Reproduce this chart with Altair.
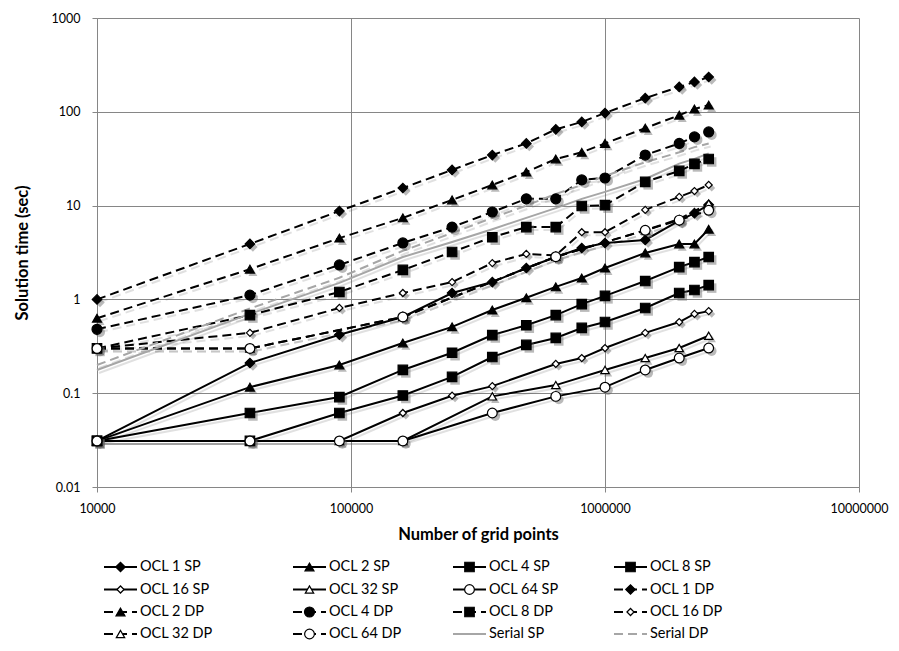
import altair as alt
import pandas as pd

# Grid sizes (number of grid points)
N = [10000, 40000, 90000, 160000, 250000, 360000, 490000, 640000,
     810000, 1000000, 1440000, 1960000, 2250000, 2560000]

# Solution times in seconds; None where a run is not reported
ocl1_sp = [0.031, 0.21, 0.42, 0.65, 1.17, 1.53, 2.16, 2.83, 3.53, 3.99, 4.3, 6.9, 8.3, 10.2]
ocl2_sp = [0.031, 0.116, 0.20, 0.343, 0.51, 0.77, 1.04, 1.36, 1.69, 2.16, 3.13, 3.9, 3.9, 5.6]
ocl4_sp = [0.031, 0.0615, 0.091, 0.177, 0.27, 0.417, 0.53, 0.68, 0.89, 1.09, 1.57, 2.21, 2.5, 2.83]
ocl8_sp = [0.031, 0.031, 0.0615, 0.0945, 0.149, 0.243, 0.327, 0.388, 0.496, 0.574, 0.81, 1.17, 1.26, 1.42]
ocl16_sp = [0.031, 0.031, 0.031, 0.0615, 0.094, 0.119, None, 0.205, 0.237, 0.303, 0.44, 0.574, 0.70, 0.75]
ocl32_sp = [0.031, 0.031, 0.031, 0.031, None, 0.0925, None, 0.122, None, 0.177, 0.237, 0.303, None, 0.41]
ocl64_sp = [0.031, 0.031, 0.031, 0.031, None, 0.0615, None, 0.0925, None, 0.116, 0.177, 0.237, None, 0.303]

ocl1_dp = [1.0, 3.9, 8.75, 15.4, 24.0, 34.6, 46.0, 65.0, 78.0, 97.0, 140.0, 184.0, 208.0, 235.0]
ocl2_dp = [0.63, 2.1, 4.5, 7.4, 11.5, 16.6, 22.8, 31.4, 37.0, 46.0, 67.0, 92.0, 107.0, 118.0]
ocl4_dp = [0.48, 1.11, 2.33, 4.0, 5.9, 8.55, 11.8, 11.8, 18.8, 19.7, 34.6, 46.0, 54.0, 61.0]
ocl8_dp = [0.30, 0.68, 1.2, 2.06, 3.2, 4.6, 5.9, 5.9, 9.9, 10.1, 17.9, 23.4, 27.8, 31.4]
ocl16_dp = [0.30, 0.44, 0.81, 1.17, 1.53, 2.44, 3.05, 2.95, 5.2, 5.2, 9.0, 12.4, 14.3, 16.6]
ocl32_dp = [0.30, 0.30, None, 0.65, None, None, None, 2.85, None, None, 5.45, 7.2, None, 10.5]
ocl64_dp = [0.30, 0.30, None, 0.65, None, None, None, 2.85, None, None, 5.45, 7.0, None, 8.9]

serial_sp = [0.177, 0.70, 1.5, 2.83, 4.1, 5.6, 7.4, 9.4, 11.8, 14.0, 19.2, 28.0, 31.5, 36.0]
serial_dp = [0.20, 0.80, 1.7, 3.3, 5.1, 7.4, 10.0, 13.3, 16.6, 20.7, 29.0, 37.0, 42.0, 46.0]

series = [
    ("OCL 1 SP", ocl1_sp), ("OCL 2 SP", ocl2_sp), ("OCL 4 SP", ocl4_sp), ("OCL 8 SP", ocl8_sp),
    ("OCL 16 SP", ocl16_sp), ("OCL 32 SP", ocl32_sp), ("OCL 64 SP", ocl64_sp), ("OCL 1 DP", ocl1_dp),
    ("OCL 2 DP", ocl2_dp), ("OCL 4 DP", ocl4_dp), ("OCL 8 DP", ocl8_dp), ("OCL 16 DP", ocl16_dp),
    ("OCL 32 DP", ocl32_dp), ("OCL 64 DP", ocl64_dp), ("Serial SP", serial_sp), ("Serial DP", serial_dp),
]

DASH = [9, 5]
# name -> (line colour, dashed?, marker shape, marker fill, marker size)
style = {
    "OCL 1 SP": ("black", False, "diamond", "black", 90),
    "OCL 2 SP": ("black", False, "triangle-up", "black", 80),
    "OCL 4 SP": ("black", False, "square", "black", 90),
    "OCL 8 SP": ("black", False, "square", "black", 90),
    "OCL 16 SP": ("black", False, "diamond", "white", 50),
    "OCL 32 SP": ("black", False, "triangle-up", "white", 70),
    "OCL 64 SP": ("black", False, "circle", "white", 95),
    "OCL 1 DP": ("black", True, "diamond", "black", 90),
    "OCL 2 DP": ("black", True, "triangle-up", "black", 80),
    "OCL 4 DP": ("black", True, "circle", "black", 100),
    "OCL 8 DP": ("black", True, "square", "black", 90),
    "OCL 16 DP": ("black", True, "diamond", "white", 50),
    "OCL 32 DP": ("black", True, "triangle-up", "white", 70),
    "OCL 64 DP": ("black", True, "circle", "white", 95),
    "Serial SP": ("#a6a6a6", False, None, None, 0),
    "Serial DP": ("#a6a6a6", True, None, None, 0),
}

FONT = "Lato"
W, H = 762, 469
GRID = "#868686"

x_enc = alt.X("N:Q",
              scale=alt.Scale(type="log", domain=[10000, 10000000]),
              axis=alt.Axis(values=[10000, 100000, 1000000, 10000000], format="d", labelFlush=False,
                            title="Number of grid points", titleY=47, titleBaseline="middle"))
y_enc = alt.Y("time:Q",
              scale=alt.Scale(type="log", domain=[0.01, 1000]),
              axis=alt.Axis(values=[0.01, 0.1, 1, 10, 100, 1000], format="~g", labelFlush=False,
                            title="Solution time (sec)", titleX=-75, titleY=H / 2,
                            titleAngle=270, titleAlign="center", titleBaseline="middle"))

line_shadows, lines, mark_shadows, marks = [], [], [], []
for name, vals in series:
    color, dashed, shape, fill, size = style[name]
    df = pd.DataFrame({"N": N, "time": vals}).dropna()
    base = alt.Chart(df).encode(x=x_enc, y=y_enc)
    lkw = dict(strokeWidth=2)
    if dashed:
        lkw["strokeDash"] = DASH
    line_shadows.append(base.mark_line(color="#555", opacity=0.18, xOffset=2, yOffset=3, **lkw))
    lines.append(base.mark_line(color=color, **lkw))
    if shape:
        mark_shadows.append(base.mark_point(shape=shape, size=size, filled=True, color="#666",
                                            opacity=0.45, xOffset=3, yOffset=3))
        marks.append(base.mark_point(shape=shape, size=size, filled=True, fill=fill,
                                     stroke="black", strokeWidth=1.2, opacity=1))

# Legend: four columns, four rows below the axis title
col_x = [7, 196, 356, 517]
row_y = [549, 571.5, 594, 616]
SEG = 33
legend = []
for i, (name, _) in enumerate(series):
    color, dashed, shape, fill, size = style[name]
    x0 = col_x[i % 4]
    yy = row_y[i // 4]
    one = alt.Chart(pd.DataFrame({"label": [name]}))
    rkw = dict(color=color, strokeWidth=2)
    if dashed:
        rkw["strokeDash"] = DASH
    legend.append(one.mark_rule(**rkw).encode(x=alt.value(x0), x2=alt.value(x0 + SEG), y=alt.value(yy)))
    if shape:
        legend.append(one.mark_point(shape=shape, size=size, filled=True, fill=fill, stroke="black",
                                     strokeWidth=1.2, opacity=1)
                      .encode(x=alt.value(x0 + SEG / 2), y=alt.value(yy)))
    legend.append(one.mark_text(align="left", baseline="middle", font=FONT, fontSize=14.5, color="black")
                  .encode(x=alt.value(x0 + SEG + 3), y=alt.value(yy), text="label:N"))

chart = alt.layer(*line_shadows, *lines, *mark_shadows, *marks, *legend).properties(
    width=W, height=H,
    autosize=alt.AutoSizeParams(type="none"),
    padding={"left": 97, "top": 18, "right": 40, "bottom": 164},
    background="white",
).configure_view(stroke="transparent").configure_axis(
    labelFont=FONT, labelFontSize=12.5, labelColor="black",
    titleFont=FONT, titleFontSize=16.5, titleFontWeight="bold", titleColor="black",
    gridColor=GRID, gridWidth=1, gridOpacity=1,
    domainColor=GRID, domainWidth=1, tickColor=GRID, tickSize=5, tickWidth=1,
).configure_axisX(labelPadding=10).configure_axisY(labelPadding=12)

chart.save("out.html", embed_options={"renderer": "svg", "actions": False})
